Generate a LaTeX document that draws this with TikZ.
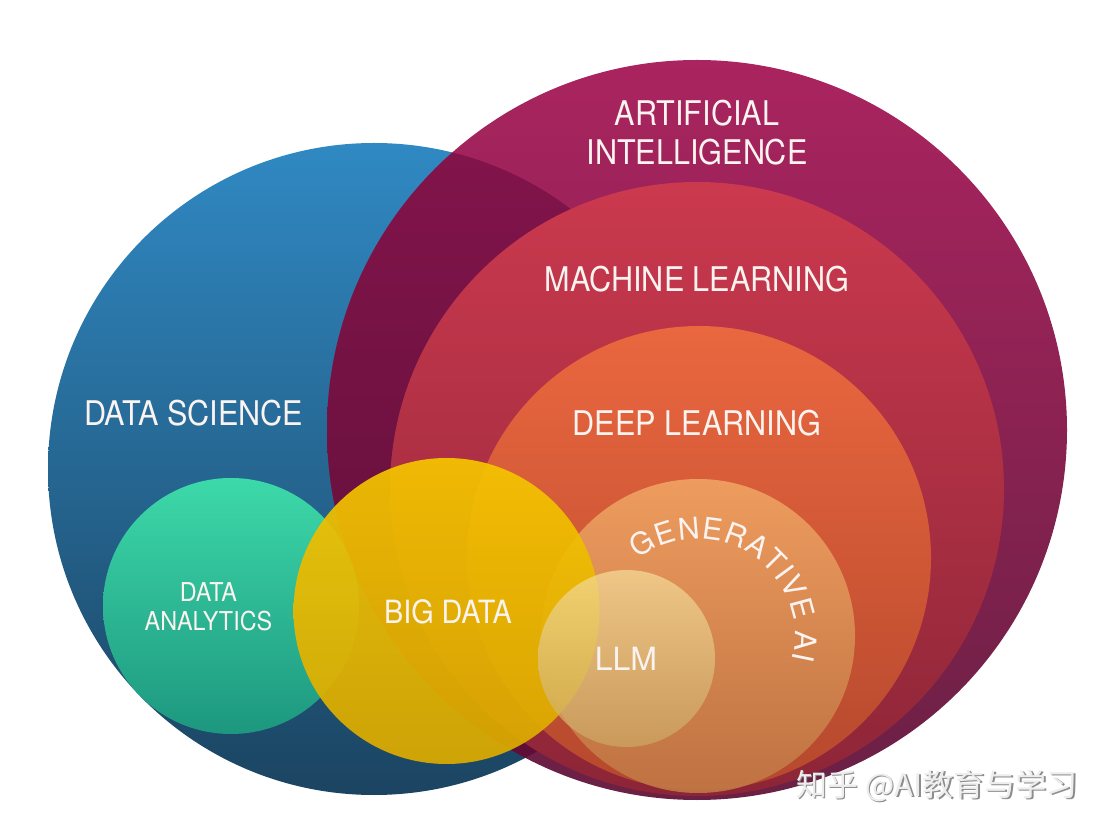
\documentclass[tikz,border=0pt]{standalone}
\usepackage{fontspec}
\setmainfont{TeX Gyre Heros}
\newfontfamily\lblfont{TeX Gyre Heros}[FakeStretch=0.9]
\newfontfamily\cjk{Noto Sans CJK SC}
\usetikzlibrary{decorations.text}
\definecolor{labelwhite}{HTML}{FAF3F0}
\definecolor{dsTop}{HTML}{3089C3}
\definecolor{dsBot}{HTML}{1B4461}
\definecolor{aiTop}{HTML}{AA245F}
\definecolor{aiBot}{HTML}{6A2044}
\definecolor{ovTop}{HTML}{82144B}
\definecolor{ovBot}{HTML}{5A0F36}
\definecolor{mlTop}{HTML}{CB394E}
\definecolor{mlBot}{HTML}{8C2537}
\definecolor{dlTop}{HTML}{EA673F}
\definecolor{dlBot}{HTML}{B5482D}
\definecolor{genTop}{HTML}{F0A262}
\definecolor{genBot}{HTML}{C07644}
\definecolor{llmTop}{HTML}{F5DC9A}
\definecolor{llmBot}{HTML}{CBA764}
\definecolor{daTop}{HTML}{3EDDAA}
\definecolor{daBot}{HTML}{1E9A80}
\definecolor{bdTop}{HTML}{F5C400}
\definecolor{bdBot}{HTML}{DBAA00}
\definecolor{wmText}{HTML}{EDEDED}
\definecolor{wmShadow}{HTML}{8C8C8C}
\begin{document}
\begin{tikzpicture}[x=1pt,y=1pt,
  lbl/.style={text=labelwhite, font=\lblfont\fontsize{34}{39}\selectfont, inner sep=0pt, align=center},
  smalllbl/.style={text=labelwhite, font=\lblfont\fontsize{26}{29}\selectfont, inner sep=0pt, align=center},
  midlbl/.style={text=labelwhite, font=\fontsize{32}{36}\selectfont, inner sep=0pt, align=center}]
\useasboundingbox (0,0) rectangle (1116,833);
\fill[white] (0,0) rectangle (1116,833);
% Data science
\shade[top color=dsTop, bottom color=dsBot] (374,364) circle[radius=326];
% Artificial intelligence
\shade[top color=aiTop, bottom color=aiBot] (697,403) circle[radius=370];
% overlap DS and AI
\begin{scope}
  \clip (697,403) circle[radius=370];
  \shade[top color=ovTop, bottom color=ovBot] (374,364) circle[radius=326];
\end{scope}
% Machine learning
\shade[top color=mlTop, bottom color=mlBot] (697,344) circle[radius=307];
% Deep learning
\shade[top color=dlTop, bottom color=dlBot] (699,275) circle[radius=232];
% Generative AI
\shade[top color=genTop, bottom color=genBot, fill opacity=0.92] (698,197) circle[radius=157];
% Data analytics
\shade[top color=daTop, bottom color=daBot, fill opacity=0.97] (231,227) circle[radius=128];
% Big data
\shade[top color=bdTop, bottom color=bdBot, fill opacity=0.93] (446.5,222) circle[radius=153];
% LLM
\shade[top color=llmTop, bottom color=llmBot, fill opacity=0.72] (626.5,174.5) circle[radius=88.5];
% labels
\node[lbl] (ai) at (697,700.5) {ARTIFICIAL\\INTELLIGENCE};
\node[lbl] (ml) at (697,554) {MACHINE LEARNING};
\node[lbl] (dl) at (697,409.5) {DEEP LEARNING};
\node[lbl] (ds) at (193.5,419.5) {DATA SCIENCE};
\node[midlbl, font=\lblfont\fontsize{32}{36}\selectfont] (bd) at (448,221.5) {BIG DATA};
\node[midlbl] (llm) at (626,174.5) {LLM};
\node[smalllbl] (da) at (208.5,226.5) {DATA\\ANALYTICS};
\path[decorate, decoration={text along path, text align=fit to path,
   text={|\fontsize{30}{33}\selectfont\color{labelwhite}|GENERATIVE AI}}]
   (698,197) ++(128:97) arc[start angle=128, end angle=-14, radius=97];
% watermark
\node[text=wmShadow, font=\cjk\fontsize{31}{34}\selectfont, inner sep=0pt] (wms) at (938.5,45.5) {知乎 @AI教育与学习};
\node[text=wmText, font=\cjk\fontsize{31}{34}\selectfont, inner sep=0pt] (wm) at (937,47) {知乎 @AI教育与学习};
\end{tikzpicture}
\end{document}
